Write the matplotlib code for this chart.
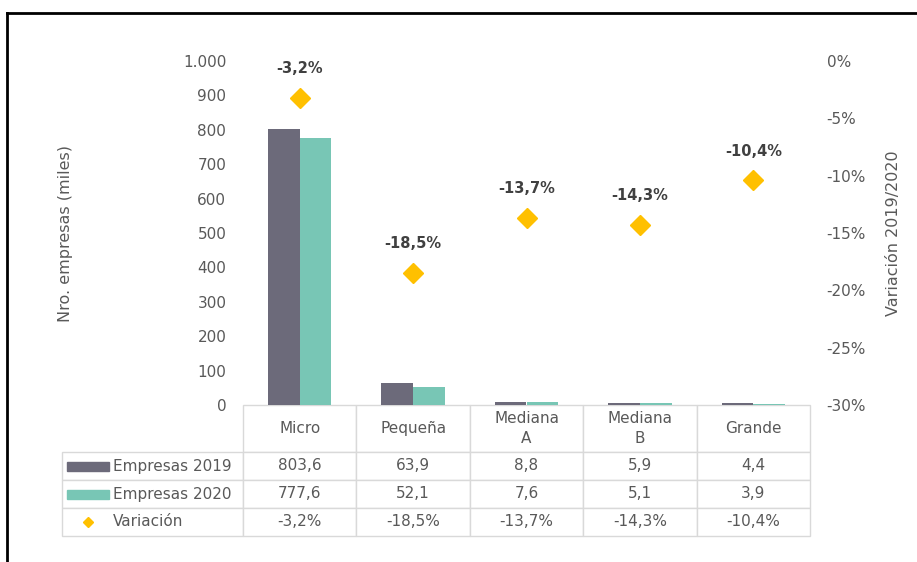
import matplotlib.pyplot as plt
from matplotlib.table import Table
from matplotlib.patches import Rectangle
from matplotlib.lines import Line2D
import numpy as np

# datos (miles de empresas)
categorias = ["Micro", "Pequeña", "Mediana\nA", "Mediana\nB", "Grande"]
empresas_2019 = [803.6, 63.9, 8.8, 5.9, 4.4]
empresas_2020 = [777.6, 52.1, 7.6, 5.1, 3.9]
variacion = [-3.2, -18.5, -13.7, -14.3, -10.4]  # %
ticks_izq = [0, 100, 200, 300, 400, 500, 600, 700, 800, 900, 1000]
ticks_der = [0, -5, -10, -15, -20, -25, -30]

c2019 = "#6c6a7a"
c2020 = "#78c6b5"
cvar = "#ffc000"
gris = "#595959"

plt.rcParams["font.family"] = ["DejaVu Sans"]
plt.rcParams["font.size"] = 11


def coma(v, dec=1):
    return f"{v:.{dec}f}".replace(".", ",")


def miles(v):
    return f"{v:,.0f}".replace(",", ".")


fig = plt.figure(figsize=(9.17, 5.62), dpi=100)
W, H = 917, 562
# ejes en pixeles: x 243-810, y 61-405
ax = fig.add_axes([243 / W, 1 - 405 / H, 567 / W, 344 / H])
ax_w, ax_h = 567, 344

x = np.arange(len(categorias))
bw = 0.28
ax.bar(x - bw / 2, empresas_2019, bw, color=c2019, zorder=2)
ax.bar(x + bw / 2, empresas_2020, bw, color=c2020, zorder=2)
ax.set_xlim(-0.5, len(categorias) - 0.5)
ax.set_ylim(0, 1000)
ax.set_yticks(ticks_izq)
ax.set_yticklabels([miles(t) for t in ticks_izq], color=gris)
ax.set_xticks([])
ax.tick_params(axis="y", length=0, pad=12)
for s in ax.spines.values():
    s.set_visible(False)
ax.set_ylabel("Nro. empresas (miles)", color=gris, fontsize=11.5)
ax.yaxis.set_label_coords((73 - 243) / ax_w, 0.5)

# eje derecho: variacion
ax2 = ax.twinx()
ax2.plot(x, np.array(variacion) / 100, "D", ms=10.5, color=cvar, linestyle="none", zorder=3)
for xi, v in zip(x, variacion):
    ax2.annotate(coma(v) + "%", (xi, v / 100), xytext=(0, 21), textcoords="offset points",
                 ha="center", va="center", fontweight="bold", fontsize=10.5, color="#404040")
ax2.set_ylim(-0.30, 0)
ax2.set_yticks([t / 100 for t in ticks_der])
ax2.set_yticklabels([f"{t}%" for t in ticks_der], color=gris)
ax2.tick_params(axis="y", length=0, pad=12)
for s in ax2.spines.values():
    s.set_visible(False)
ax2.set_ylabel("Variación 2019/2020", color=gris, fontsize=11.5)
ax2.yaxis.set_label_coords((886 - 243) / ax_w, 0.5)

# tabla de datos (columna 0 = etiquetas de fila)
lab_w = 181
col_w = ax_w / len(categorias)
alturas = [47, 28, 28, 28]
filas = [
    [coma(v) for v in empresas_2019],
    [coma(v) for v in empresas_2020],
    [coma(v) + "%" for v in variacion],
]
tot_h = sum(alturas)
tb = Table(ax, bbox=[-lab_w / ax_w, -tot_h / ax_h, (lab_w + ax_w) / ax_w, tot_h / ax_h])
esquina = tb.add_cell(0, 0, width=lab_w, height=alturas[0], text="")
esquina.visible_edges = ""
for j, cat in enumerate(categorias, start=1):
    tb.add_cell(0, j, width=col_w, height=alturas[0], text=cat, loc="center")
for i, fila in enumerate(filas, start=1):
    tb.add_cell(i, 0, width=lab_w, height=alturas[i], text="")
    for j, val in enumerate(fila, start=1):
        tb.add_cell(i, j, width=col_w, height=alturas[i], text=val, loc="center")
tb.auto_set_font_size(False)
tb.set_fontsize(11)
for (r, c), cell in tb.get_celld().items():
    cell.set_edgecolor("#d9d9d9")
    cell.set_linewidth(1)
    cell.get_text().set_color(gris)
    cell.get_text().set_linespacing(1.45)
ax.add_table(tb)

# etiquetas de filas con claves de leyenda
nombres = ["Empresas 2019", "Empresas 2020", "Variación"]
y0 = -alturas[0]
for i, nombre in enumerate(nombres, start=1):
    yc = (y0 - alturas[i] / 2) / ax_h
    y0 -= alturas[i]
    ax.text((113 - 243) / ax_w, yc, nombre, transform=ax.transAxes, ha="left",
            va="center", color=gris, fontsize=11, zorder=5)
    if i < 3:
        col = c2019 if i == 1 else c2020
        ax.add_patch(Rectangle(((67 - 243) / ax_w, yc - 4.5 / ax_h), 42 / ax_w, 9 / ax_h,
                               transform=ax.transAxes, color=col, clip_on=False, zorder=5))
    else:
        ax.plot([(88 - 243) / ax_w], [yc], "D", ms=5, color=cvar,
                transform=ax.transAxes, clip_on=False, zorder=5)

# marco negro
fig.add_artist(Line2D([7 / W, 7 / W], [0, 1 - 13 / H], color="black", lw=2))
fig.add_artist(Line2D([7 / W, 1], [1 - 13 / H, 1 - 13 / H], color="black", lw=2))

fig.savefig("out.png", dpi=100)
